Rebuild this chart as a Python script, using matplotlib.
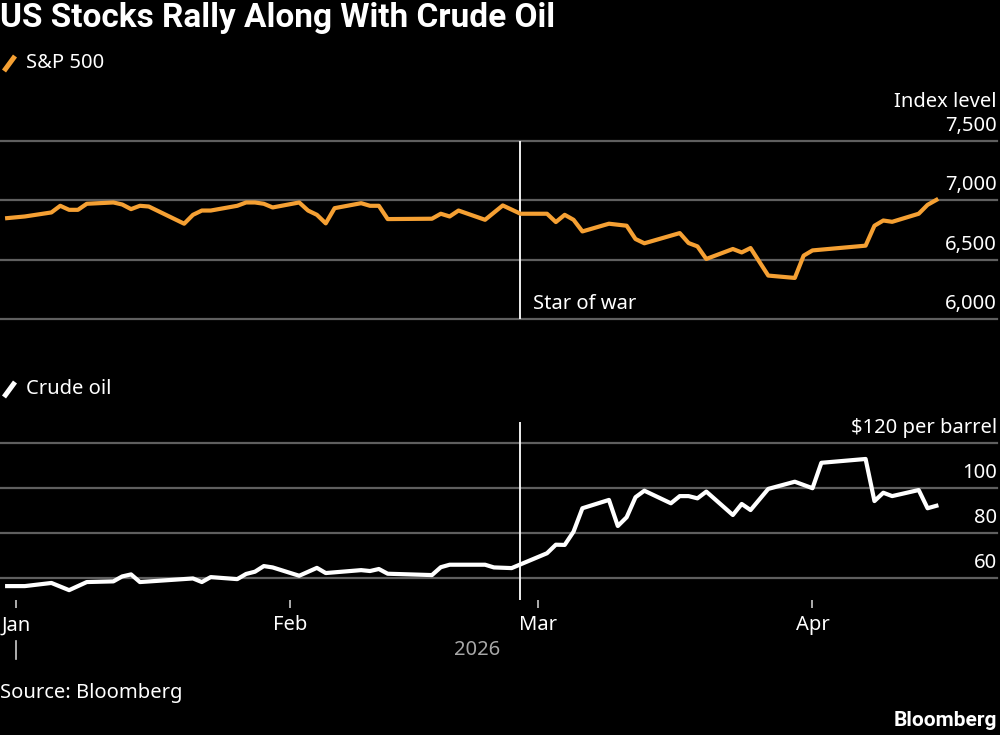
import matplotlib
matplotlib.use("Agg")
import matplotlib.pyplot as plt
import matplotlib.dates as mdates
from matplotlib.lines import Line2D
import pandas as pd

# ------------------------------------------------------------
# Data (turning points of each line)
spx_dates = ["2025-12-31", "2026-01-02", "2026-01-05", "2026-01-06", "2026-01-07", "2026-01-08",
             "2026-01-09", "2026-01-12", "2026-01-13", "2026-01-14", "2026-01-15", "2026-01-16",
             "2026-01-20", "2026-01-21", "2026-01-22", "2026-01-23", "2026-01-26", "2026-01-27",
             "2026-01-28", "2026-01-29", "2026-01-30", "2026-02-02", "2026-02-03", "2026-02-04",
             "2026-02-05", "2026-02-06", "2026-02-09", "2026-02-10", "2026-02-11", "2026-02-12",
             "2026-02-17", "2026-02-18", "2026-02-19", "2026-02-20", "2026-02-23", "2026-02-25",
             "2026-02-27", "2026-03-02", "2026-03-03", "2026-03-04", "2026-03-05", "2026-03-06",
             "2026-03-09", "2026-03-11", "2026-03-12", "2026-03-13", "2026-03-17", "2026-03-18",
             "2026-03-19", "2026-03-20", "2026-03-23", "2026-03-24", "2026-03-25", "2026-03-27",
             "2026-03-30", "2026-03-31", "2026-04-01", "2026-04-07", "2026-04-08", "2026-04-09",
             "2026-04-10", "2026-04-13", "2026-04-14", "2026-04-15"]
spx_values = [6850, 6864, 6898, 6954, 6920, 6920,
              6971, 6982, 6965, 6926, 6954, 6948,
              6803, 6878, 6914, 6914, 6954, 6982,
              6982, 6971, 6940, 6982, 6914, 6878,
              6806, 6934, 6976, 6954, 6954, 6842,
              6845, 6887, 6864, 6914, 6836, 6957,
              6887, 6887, 6817, 6878, 6836, 6738,
              6803, 6786, 6674, 6638, 6724, 6640,
              6612, 6506, 6590, 6561, 6598, 6366,
              6346, 6534, 6578, 6618, 6786, 6830,
              6819, 6887, 6962, 7004]

oil_dates = ["2025-12-31", "2026-01-02", "2026-01-05", "2026-01-07", "2026-01-09", "2026-01-12",
             "2026-01-13", "2026-01-14", "2026-01-15", "2026-01-21", "2026-01-22", "2026-01-23",
             "2026-01-26", "2026-01-27", "2026-01-28", "2026-01-29", "2026-01-30", "2026-02-02",
             "2026-02-04", "2026-02-05", "2026-02-09", "2026-02-10", "2026-02-11", "2026-02-12",
             "2026-02-17", "2026-02-18", "2026-02-19", "2026-02-23", "2026-02-24", "2026-02-26",
             "2026-03-02", "2026-03-03", "2026-03-04", "2026-03-05", "2026-03-06", "2026-03-09",
             "2026-03-10", "2026-03-11", "2026-03-12", "2026-03-13", "2026-03-16", "2026-03-17",
             "2026-03-18", "2026-03-19", "2026-03-20", "2026-03-23", "2026-03-24", "2026-03-25",
             "2026-03-27", "2026-03-30", "2026-04-01", "2026-04-02", "2026-04-07", "2026-04-08",
             "2026-04-09", "2026-04-10", "2026-04-13", "2026-04-14", "2026-04-15"]
oil_values = [56.4, 56.4, 57.8, 54.6, 58.2, 58.5,
              60.7, 61.6, 58.2, 59.8, 58.2, 60.4,
              59.5, 61.8, 62.8, 65.3, 64.7, 61.0,
              64.5, 62.2, 63.5, 63.1, 64.0, 61.9,
              61.3, 64.8, 65.9, 65.9, 64.7, 64.4,
              71.0, 74.8, 74.7, 80.6, 91.0, 94.7,
              83.1, 87.0, 95.9, 98.8, 93.2, 96.4,
              96.4, 95.4, 98.4, 88.0, 92.9, 90.2,
              99.6, 102.8, 99.9, 111.2, 112.9, 94.2,
              97.9, 96.4, 99.1, 91.0, 92.1]

spx_ticks = [6000, 6500, 7000, 7500]
spx_tick_labels = ["6,000", "6,500", "7,000", "7,500"]
oil_ticks = [60, 80, 100, 120]
oil_tick_labels = ["60", "80", "100", "$120 per barrel"]
month_ticks = ["2026-01-01", "2026-02-01", "2026-03-01", "2026-04-01"]
month_labels = ["Jan", "Feb", "Mar", "Apr"]
war_date = "2026-02-27"

# ------------------------------------------------------------
W, H = 1000, 735
bg = "black"
orange = "#f5a033"
grid_col = "#5f5f5f"
font = ["Noto Sans", "DejaVu Sans"]
bold_font = ["Roboto", "DejaVu Sans"]
plt.rcParams["font.family"] = font

fig = plt.figure(figsize=(W / 100, H / 100), dpi=100, facecolor=bg)

def fx(x):
    return x / W

def fy(y):
    return 1 - y / H

# x range: Jan 1 sits at pixel 16, 8.85 px per day, axes span pixel 0..997
jan1 = mdates.date2num(pd.Timestamp("2026-01-01"))
px_day = 8.85
xlim = (jan1 - 16 / px_day, jan1 + (997 - 16) / px_day)

ax1 = fig.add_axes([0, 1 - 319 / H, 0.997, 178 / H])
ax2 = fig.add_axes([0, 1 - 600 / H, 0.997, 178 / H])

for ax in (ax1, ax2):
    ax.set_facecolor(bg)
    for s in ax.spines.values():
        s.set_visible(False)
    ax.set_xlim(*xlim)
    ax.set_yticks([])

ax1.set_ylim(6000, 7500)
ax2.set_ylim(60 - 22 / 2.25, 120 + 21 / 2.25)

# gridlines
for v in spx_ticks:
    ax1.axhline(v, color=grid_col, lw=1.6, zorder=1, clip_on=False)
for v in oil_ticks:
    ax2.axhline(v, color=grid_col, lw=1.6, zorder=1, clip_on=False)

# start of war line
war = mdates.date2num(pd.Timestamp(war_date))
ax1.axvline(war, color="white", lw=1.3, zorder=2)
ax2.axvline(war, color="white", lw=1.3, zorder=2)

spx_x = mdates.date2num(pd.to_datetime(spx_dates))
oil_x = mdates.date2num(pd.to_datetime(oil_dates))
ax1.plot(spx_x, spx_values, color=orange, lw=3.0, solid_joinstyle="round", zorder=3, clip_on=False)
ax2.plot(oil_x, oil_values, color="white", lw=3.0, solid_joinstyle="round", zorder=3, clip_on=False)

# y labels on right, above gridlines
fs = 14.5
for v, lab in zip(spx_ticks, spx_tick_labels):
    ax1.annotate(lab, (1.0, v), xycoords=("axes fraction", "data"), xytext=(0, 5),
                 textcoords="offset pixels", ha="right", va="bottom", color="white", fontsize=fs)
ax1.annotate("Index level", (1.0, 7500), xycoords=("axes fraction", "data"), xytext=(0, 29),
             textcoords="offset pixels", ha="right", va="bottom", color="white", fontsize=fs)
for v, lab in zip(oil_ticks, oil_tick_labels):
    ax2.annotate(lab, (1.0, v), xycoords=("axes fraction", "data"), xytext=(0, 5),
                 textcoords="offset pixels", ha="right", va="bottom", color="white", fontsize=fs)

ax1.annotate("Star of war", (war, 6000), xytext=(13, 5), textcoords="offset pixels",
             ha="left", va="bottom", color="white", fontsize=fs)

# x axis
ax1.set_xticks([])
ax2.set_xticks(mdates.date2num(pd.to_datetime(month_ticks)))
ax2.set_xticklabels(month_labels)
ax2.tick_params(axis="x", colors="#cccccc", length=6, width=1.2, pad=5, labelsize=fs,
                labelcolor="white", direction="out")

# year marker below Jan
ax2.plot([jan1, jan1], [-0.23, -0.33], transform=ax2.get_xaxis_transform(), color="#cccccc",
         lw=1.2, clip_on=False)
fig.text(fx(477), fy(650), "2026", ha="center", va="center", color="#a8a8a8", fontsize=fs)

# title, legends, source
fig.text(fx(0), fy(18), "US Stocks Rally Along With Crude Oil", ha="left", va="center",
         color="white", fontsize=24, fontweight="bold", family=bold_font)
fig.add_artist(Line2D([fx(4), fx(15)], [fy(71), fy(56)], color=orange, lw=3.6,
                      solid_capstyle="butt"))
fig.text(fx(26), fy(63), "S&P 500", ha="left", va="center", color="white", fontsize=fs)
fig.add_artist(Line2D([fx(4), fx(15)], [fy(397), fy(382)], color="white", lw=3.6,
                      solid_capstyle="butt"))
fig.text(fx(26), fy(389), "Crude oil", ha="left", va="center", color="white", fontsize=fs)
fig.text(fx(0), fy(693), "Source: Bloomberg", ha="left", va="center", color="white", fontsize=fs)
fig.text(fx(997), fy(720), "Bloomberg", ha="right", va="center", color="white", fontsize=15,
         fontweight="bold", family=bold_font)

fig.savefig("out.png", dpi=100, facecolor=bg)
